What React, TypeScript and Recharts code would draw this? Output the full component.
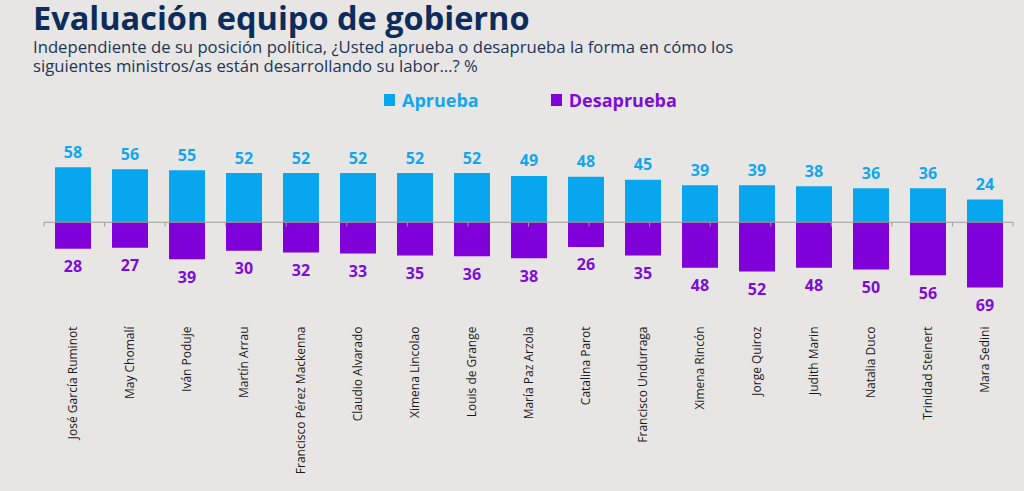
import React from 'react';
import { ComposedChart, Bar, XAxis, YAxis, ReferenceLine, LabelList, Legend } from 'recharts';

const ministers = [
  'José García Ruminot', 'May Chomalí', 'Iván Poduje', 'Martín Arrau', 'Francisco Pérez Mackenna',
  'Claudio Alvarado', 'Ximena Lincolao', 'Louis de Grange', 'María Paz Arzola', 'Catalina Parot',
  'Francisco Undurraga', 'Ximena Rincón', 'Jorge Quiroz', 'Judith Marin', 'Natalia Duco',
  'Trinidad Steinert', 'Mara Sedini',
];
const aprueba = [58, 56, 55, 52, 52, 52, 52, 52, 49, 48, 45, 39, 39, 38, 36, 36, 24];
const desaprueba = [28, 27, 39, 30, 32, 33, 35, 36, 38, 26, 35, 48, 52, 48, 50, 56, 69];
const seriesNames = ['Aprueba', 'Desaprueba'];
const title = 'Evaluación equipo de gobierno';
const subtitle = [
  'Independiente de su posición política, ¿Usted aprueba o desaprueba la forma en cómo los',
  'siguientes ministros/as están desarrollando su labor…? %',
];

const BLUE = '#08a6ee';
const PURPLE = '#7f00d9';
const BLUE_TXT = '#12a6ee';
const PURPLE_TXT = '#7d0cd6';
const BG = '#e8e6e4';
const FONT = "'Open Sans', 'Noto Sans', sans-serif";

const data = ministers.map((name, i) => ({
  name,
  aprueba: aprueba[i],
  desaprueba: -desaprueba[i],
}));
const edges = Array.from({ length: ministers.length + 1 }, (_, i) => i);

const CatTick = (props: any) => {
  const { x, y, payload } = props;
  const ay = y + 20.5;
  return (
    <text
      x={x}
      y={ay}
      dy={4.5}
      transform={`rotate(-90, ${x}, ${ay})`}
      textAnchor="end"
      fontSize={12}
      fontFamily={FONT}
      fill="#1a1a1a"
    >
      {payload.value}
    </text>
  );
};

const makeLabel = (color: string, above: boolean) => (props: any) => {
  const { x, y, width, height, value } = props;
  const top = Math.min(y, y + height);
  const bottom = Math.max(y, y + height);
  const cy = above ? top - 15.5 : bottom + 17.5;
  return (
    <text
      x={x + width / 2}
      y={cy}
      textAnchor="middle"
      dominantBaseline="central"
      fontSize={16}
      fontWeight={700}
      fontFamily={FONT}
      fill={color}
    >
      {Math.abs(value)}
    </text>
  );
};

const LegendContent = () => (
  <div style={{ display: 'flex', fontFamily: FONT, fontWeight: 700, fontSize: 18 }}>
    {seriesNames.map((n, i) => (
      <div key={n} style={{ display: 'flex', alignItems: 'center', marginRight: i === 0 ? 72 : 0 }}>
        <span style={{ width: 11, height: 12, background: i === 0 ? BLUE : PURPLE, display: 'inline-block', marginRight: 7 }} />
        <span style={{ color: i === 0 ? BLUE_TXT : PURPLE_TXT }}>{n}</span>
      </div>
    ))}
  </div>
);

export default function App() {
  return (
    <div style={{ position: 'absolute', left: 0, top: 0, width: 1024, height: 491, background: BG, overflow: 'hidden' }}>
      <svg width={1024} height={80} style={{ position: 'absolute', left: 0, top: 0 }}>
        <text x={33} y={29.5} fontSize={32.5} fontWeight={700} fontFamily={FONT} fill="#0c2d5b">{title}</text>
        <text x={33} y={53} fontSize={16.7} fontFamily={FONT} fill="#1e3557">{subtitle[0]}</text>
        <text x={33} y={72} fontSize={16.7} fontFamily={FONT} fill="#1e3557">{subtitle[1]}</text>
      </svg>
      <div style={{ position: 'absolute', left: 0, top: 0 }}>
        <ComposedChart
          width={1024}
          height={491}
          data={data}
          stackOffset="sign"
          margin={{ top: 156, right: 11, left: 44, bottom: 0 }}
        >
          <XAxis
            xAxisId="cat"
            dataKey="name"
            height={193}
            axisLine={false}
            tickLine={false}
            interval={0}
            tick={<CatTick />}
          />
          <XAxis xAxisId="edge" type="number" domain={[0, ministers.length]} hide />
          <YAxis hide domain={[-80, 70]} allowDataOverflow />
          <Legend
            verticalAlign="middle"
            content={<LegendContent />}
            wrapperStyle={{ position: 'absolute', left: 384, top: 88, width: 'auto', height: 'auto' }}
          />
          <Bar xAxisId="cat" dataKey="aprueba" name={seriesNames[0]} stackId="s" fill={BLUE} barSize={36} isAnimationActive={false}>
            <LabelList dataKey="aprueba" content={makeLabel(BLUE_TXT, true)} />
          </Bar>
          <Bar xAxisId="cat" dataKey="desaprueba" name={seriesNames[1]} stackId="s" fill={PURPLE} barSize={36} isAnimationActive={false}>
            <LabelList dataKey="desaprueba" content={makeLabel(PURPLE_TXT, false)} />
          </Bar>
          <ReferenceLine xAxisId="cat" y={0} stroke="#9a9a9a" strokeWidth={1.2} />
          {edges.map((e) => (
            <ReferenceLine
              key={e}
              xAxisId="edge"
              segment={[{ x: e, y: 0 }, { x: e, y: -4.5 }]}
              stroke="#9a9a9a"
              strokeWidth={1}
            />
          ))}
        </ComposedChart>
      </div>
    </div>
  );
}
